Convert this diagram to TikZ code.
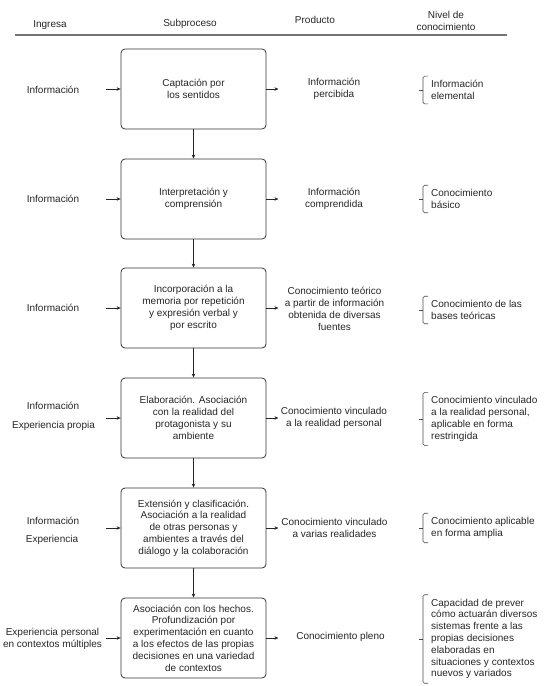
\documentclass[tikz,border=0pt]{standalone}
\usepackage{fontspec}
\setmainfont{Liberation Sans}
\usetikzlibrary{arrows.meta,calc}
\begin{document}
\begin{tikzpicture}[x=1pt,y=-1pt,
  every node/.style={font=\fontsize{10}{11.8}\selectfont, text=black!85, inner sep=0pt},
  box/.style={draw=black!80, line width=0.8pt, rounded corners=4pt, minimum width=145pt, minimum height=80pt, align=center},
  prod/.style={align=center},
  lvl/.style={align=left, anchor=west},
  inp/.style={align=center},
  hdr/.style={align=center},
  arr/.style={draw=black!85, line width=0.6pt, -{Stealth[length=4pt,width=3.5pt]}},
  brk/.style={draw=black!70, line width=0.6pt, rounded corners=1.5pt},
  rule/.style={draw=black!55, line width=1.2pt}
]
\useasboundingbox (0,0) rectangle (550,686);

% header
\node[hdr] (h1) at (50,25) {Ingresa};
\node[hdr] (h2) at (190,24) {Subproceso};
\node[hdr] (h3) at (315,20) {Producto};
\node[hdr] (h4) at (446,21) {Nivel de\\conocimiento};
\coordinate (rl) at (15,35);
\coordinate (rr) at (507,35);
\draw[rule] (rl) -- (rr);

% boxes
\node[box] (b1) at (193.5,89) {Captación por\\los sentidos};
\node[box] (b2) at (193.5,199) {Interpretación y\\comprensión};
\node[box] (b3) at (193.5,308) {Incorporación a la\\memoria por repetición\\y expresión verbal y\\por escrito};
\node[box] (b4) at (193.5,418) {Elaboración. Asociación\\con la realidad del\\protagonista y su\\ambiente};
\node[box] (b5) at (193.5,528) {Extensión y clasificación.\\Asociación a la realidad\\de otras personas y\\ambientes a través del\\diálogo y la colaboración};
\node[box] (b6) at (193.5,638) {Asociación con los hechos.\\Profundización por\\experimentación en cuanto\\a los efectos de las propias\\decisiones en una variedad\\de contextos};

\draw[arr] (b1) -- (b2);
\draw[arr] (b2) -- (b3);
\draw[arr] (b3) -- (b4);
\draw[arr] (b4) -- (b5);
\draw[arr] (b5) -- (b6);

% inputs
\node[inp] (i1) at (53,90) {Información};
\node[inp] (i2) at (53,199) {Información};
\node[inp] (i3) at (53,308) {Información};
\node[inp] (i4a) at (53,406) {Información};
\node[inp] (i4b) at (53.5,426) {Experiencia propia};
\node[inp] (i5a) at (53,521) {Información};
\node[inp] (i5b) at (52,540) {Experiencia};
\node[inp] (i6) at (52.5,639) {Experiencia personal\\en contextos múltiples};

\foreach \n in {1,...,6}{
  \coordinate (ia\n) at ($(b\n.west)+(-15,0)$);
  \draw[arr] (ia\n) -- (b\n.west);
  \coordinate (oa\n) at ($(b\n.east)+(12,0)$);
  \draw[arr] (b\n.east) -- (oa\n);
}

% products
\node[prod] (p1) at (334,89) {Información\\percibida};
\node[prod] (p2) at (334,199) {Información\\comprendida};
\node[prod] (p3) at (334.5,309) {Conocimiento teórico\\a partir de información\\obtenida de diversas\\fuentes};
\node[prod] (p4) at (334,418) {Conocimiento vinculado\\a la realidad personal};
\node[prod] (p5) at (334.5,528) {Conocimiento vinculado\\a varias realidades};
\node[prod] (p6) at (340.5,637) {Conocimiento pleno};

% levels
\node[lvl] (l1) at (431,90) {Información\\elemental};
\node[lvl] (l2) at (431,199) {Conocimiento\\básico};
\node[lvl] (l3) at (431,310) {Conocimiento de las\\bases teóricas};
\node[lvl] (l4) at (431,419) {Conocimiento vinculado\\a la realidad personal,\\aplicable en forma\\restringida};
\node[lvl] (l5) at (431,528) {Conocimiento aplicable\\en forma amplia};
\node[lvl] (l6) at (431,639) {Capacidad de prever\\cómo actuarán diversos\\sistemas frente a las\\propias decisiones\\elaboradas en\\situaciones y contextos\\nuevos y variados};

\foreach \n in {1,...,6}{
  \coordinate (bt\n) at ($(l\n.north west)+(-3,-4)$);
  \coordinate (bb\n) at ($(l\n.south west)+(-3,4)$);
  \coordinate (bm\n) at ($(l\n.west)+(-8,0)$);
  \draw[brk] (bt\n) -- (bt\n -| bm\n) -- (bb\n -| bm\n) -- (bb\n);
  \draw[brk] (bm\n) -- ++(-4,0);
}
\end{tikzpicture}
\end{document}
